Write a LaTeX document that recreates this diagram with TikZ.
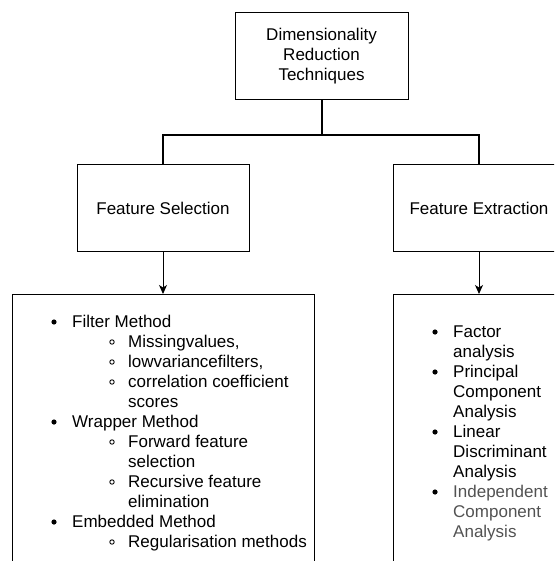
\documentclass[tikz,border=0pt]{standalone}
\usepackage{fontspec}
\setmainfont{Liberation Sans}
\usetikzlibrary{arrows.meta}
\begin{document}
\begin{tikzpicture}[x=1pt,y=-1pt,
  txt/.style={font=\fontsize{17}{20}\selectfont},
  box/.style={txt, draw=black, line width=1pt, inner sep=0pt, align=center},
  trunk/.style={draw=black, line width=2pt},
  feed/.style={draw=black, line width=1pt, -{Stealth[length=9pt,width=8pt,inset=2.5pt]}},
  item/.style={txt, anchor=base west, inner sep=0pt},
  dim/.style={text=black!68},
  dot/.style={fill=black},
  ring/.style={draw=black, line width=0.9pt}]
\useasboundingbox (0,0) rectangle (554,561);
\clip (0,0) rectangle (554,561);

% category boxes
\node[box, minimum width=173pt, minimum height=87pt] (root) at (321.5,56.5)
  {Dimensionality\\Reduction\\Techniques};
\node[box, minimum width=172pt, minimum height=86pt] (sel) at (163,208) {Feature Selection};
\node[box, minimum width=172pt, minimum height=86pt] (ext) at (479,208) {Feature Extraction};

% list panels (running past the lower edge)
\node[draw=black, line width=1pt, minimum width=302pt, minimum height=320pt, anchor=north] (sellist) at (163,294) {};
\node[draw=black, line width=1pt, minimum width=172pt, minimum height=320pt, anchor=north] (extlist) at (479,294) {};

% tree connectors
\coordinate (split) at (321.5,135);
\draw[trunk] (root.south) -- (split);
\draw[trunk, line join=miter] (sel.north) |- (split) -| (ext.north);
\draw[feed] (sel.south) -- (sellist.north);
\draw[feed] (ext.south) -- (extlist.north);

% feature selection methods
\foreach \n/\x/\y/\t in {
  1/72/327/{Filter Method},
  2/128/347/{Missingvalues,},
  3/128/367/{lowvariancefilters,},
  4/128/387/{correlation coefficient},
  5/128/407/{scores},
  6/72/427/{Wrapper Method},
  7/128/447/{Forward feature},
  8/128/467/{selection},
  9/128/487/{Recursive feature},
  10/128/507/{elimination},
  11/72/527/{Embedded Method},
  12/128/547/{Regularisation methods}}
  \node[item] (s\n) at (\x,\y) {\t};
\foreach \y in {327,427,527}
  \fill[dot] (54,\y-5) circle (2.6pt);
\foreach \y in {347,367,387,447,487,547}
  \draw[ring] (112,\y-5) circle (2.2pt);

% feature extraction methods
\foreach \n/\y/\t in {
  1/337/{Factor},
  2/357/{analysis},
  3/377/{Principal},
  4/397/{Component},
  5/417/{Analysis},
  6/437/{Linear},
  7/457/{Discriminant},
  8/477/{Analysis}}
  \node[item] (e\n) at (453,\y) {\t};
\foreach \n/\y/\t in {
  9/497/{Independent},
  10/517/{Component},
  11/537/{Analysis}}
  \node[item, dim] (e\n) at (453,\y) {\t};
\foreach \y in {337,377,437,497}
  \fill[dot] (435,\y-5) circle (2.6pt);
\end{tikzpicture}
\end{document}
